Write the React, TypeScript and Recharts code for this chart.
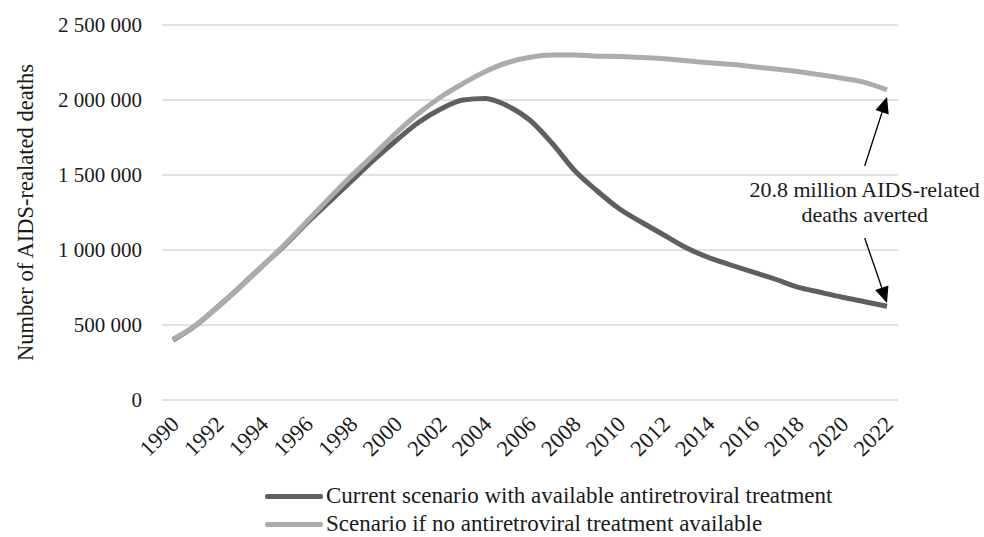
import React from 'react';
import {
    LineChart, Line, XAxis, YAxis, CartesianGrid, Legend, ReferenceLine, ReferenceDot
} from 'recharts';

const years = [
    '1990', '1991', '1992', '1993', '1994', '1995', '1996', '1997', '1998', '1999', '2000',
    '2001', '2002', '2003', '2004', '2005', '2006', '2007', '2008', '2009', '2010',
    '2011', '2012', '2013', '2014', '2015', '2016', '2017', '2018', '2019', '2020',
    '2021', '2022',
];

// with antiretroviral treatment
const currentDeaths = [
    400000, 495000, 620000, 753000, 893000, 1030000, 1180000, 1320000, 1460000, 1600000, 1730000,
    1850000, 1940000, 2000000, 2010000, 1960000, 1865000, 1710000, 1530000, 1395000, 1275000,
    1185000, 1100000, 1015000, 950000, 900000, 852000, 805000, 752000, 718000, 685000,
    655000, 625000,
];

// no treatment scenario
const noArtDeaths = [
    405000, 495000, 620000, 753000, 893000, 1035000, 1190000, 1345000, 1495000, 1635000, 1780000,
    1910000, 2020000, 2110000, 2190000, 2250000, 2285000, 2300000, 2300000, 2292000, 2290000,
    2283000, 2275000, 2262000, 2248000, 2238000, 2222000, 2207000, 2190000, 2168000, 2145000,
    2118000, 2068000,
];

const seriesNames = [
    'Current scenario with available antiretroviral treatment',
    'Scenario if no antiretroviral treatment available',
];
const seriesColors = ['#5f5f5f', '#acacac'];

const yTicks = [0, 500000, 1000000, 1500000, 2000000, 2500000];
const yLabel = 'Number of AIDS-realated deaths';
const noteLines = ['20.8 million AIDS-related', 'deaths averted'];

const data = years.map((year, i) => ({
    year,
    current: currentDeaths[i],
    noArt: noArtDeaths[i],
}));

const FONT = '"Liberation Serif", "Times New Roman", serif';
const INK = '#1a1a1a';

const fmt = (v: number) => String(v).replace(/\B(?=(\d{3})+(?!\d))/g, ' ');

function YearTick(props: any) {
    const { x, y, payload } = props;
    return (
        <g transform={`translate(${x + 2},${y + 20})`}>
            <text x={0} y={0} dy="0.35em" textAnchor="end" transform="rotate(-45)"
                fontFamily={FONT} fontSize={22.5} fill={INK}>
                {payload.value}
            </text>
        </g>
    );
}

function Arrow(props: any) {
    const { x1, y1, x2, y2 } = props;
    const dx = x2 - x1;
    const dy = y2 - y1;
    const len = Math.sqrt(dx * dx + dy * dy);
    const ux = dx / len;
    const uy = dy / len;
    const headLen = 16;
    const half = 7;
    const bx = x2 - ux * headLen;
    const by = y2 - uy * headLen;
    const pts = [
        `${x2},${y2}`,
        `${bx - uy * half},${by + ux * half}`,
        `${bx + uy * half},${by - ux * half}`,
    ].join(' ');
    return (
        <g>
            <line x1={x1} y1={y1} x2={bx} y2={by} stroke="#000" strokeWidth={1.3} />
            <polygon points={pts} fill="#000" />
        </g>
    );
}

function Note(props: any) {
    const { cx, cy } = props;
    return (
        <text x={cx} y={cy} textAnchor="middle" fontFamily={FONT} fontSize={22} fill={INK}>
            <tspan x={cx} dy={0}>{noteLines[0]}</tspan>
            <tspan x={cx} dy={25}>{noteLines[1]}</tspan>
        </text>
    );
}

function LegendBox() {
    return (
        <div style={{ height: 60, paddingTop: 7, boxSizing: 'border-box', fontFamily: FONT, fontSize: 23, color: INK }}>
            {seriesNames.map((name, i) => (
                <div key={name} style={{ display: 'flex', alignItems: 'center', height: 28, paddingLeft: 265 }}>
                    <div style={{ width: 58, height: 5, background: seriesColors[i], borderRadius: 2 }} />
                    <span style={{ marginLeft: 3, lineHeight: '28px' }}>{name}</span>
                </div>
            ))}
        </div>
    );
}

export default function App() {
    return (
        <div style={{ position: 'absolute', left: 0, top: 0, width: 984, height: 537, background: '#fff' }}>
            <LineChart width={984} height={537} data={data}
                margin={{ top: 25, right: 86, bottom: 2, left: 0 }}>
                <CartesianGrid vertical={false} stroke="#d9d9d9" strokeWidth={1.5} />
                <XAxis dataKey="year" interval={1} axisLine={false} tickLine={false}
                    tickSize={0} tickMargin={0} height={75} padding={{ left: 11, right: 11 }}
                    tick={<YearTick />} />
                <YAxis width={162} domain={[0, 2500000]} ticks={yTicks} axisLine={false}
                    tickLine={false} tickSize={0} tickMargin={20} tickFormatter={fmt}
                    tick={{ fontFamily: FONT, fontSize: 21, fill: INK }}
                    label={{
                        content: (p: any) => {
                            const vb = p.viewBox || { x: 0, y: 25, height: 375 };
                            const cy = vb.y + vb.height / 2;
                            return (
                                <text x={33} y={cy} textAnchor="middle" transform={`rotate(-90, 33, ${cy})`}
                                    fontFamily={FONT} fontSize={22.5} fill={INK}>
                                    {yLabel}
                                </text>
                            );
                        },
                    }} />
                <Legend verticalAlign="bottom" content={() => <LegendBox />} />
                <Line type="monotone" dataKey="current" name={seriesNames[0]} stroke={seriesColors[0]}
                    strokeWidth={5} dot={false} isAnimationActive={false} />
                <Line type="monotone" dataKey="noArt" name={seriesNames[1]} stroke={seriesColors[1]}
                    strokeWidth={5} dot={false} isAnimationActive={false} />
                <ReferenceLine segment={[{ x: '2021', y: 1560000 }, { x: '2022', y: 2020000 }]}
                    shape={<Arrow />} ifOverflow="visible" />
                <ReferenceLine segment={[{ x: '2021', y: 1080000 }, { x: '2022', y: 647000 }]}
                    shape={<Arrow />} ifOverflow="visible" />
                <ReferenceDot x="2021" y={1353000} r={0} shape={<Note />} ifOverflow="visible" />
            </LineChart>
        </div>
    );
}
